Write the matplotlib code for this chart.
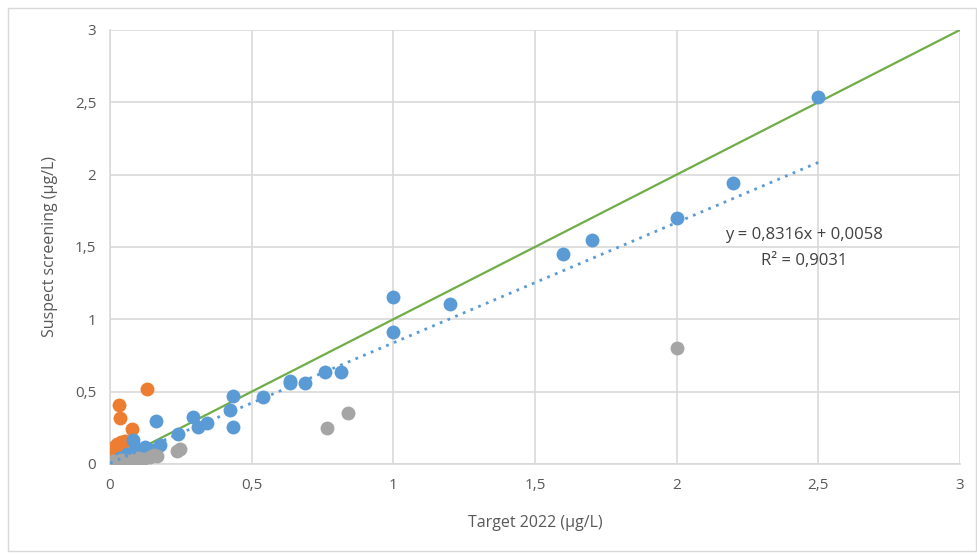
import matplotlib.pyplot as plt
from matplotlib.patches import Rectangle
from matplotlib.ticker import FuncFormatter

plt.rcParams["font.family"] = ["Open Sans", "DejaVu Sans"]

# Target 2022 vs suspect screening concentrations (µg/L)
blue_x = [2.50, 2.20, 2.00, 1.70, 1.60, 1.20, 1.00, 1.00, 0.817, 0.758, 0.689, 0.637, 0.637,
          0.54, 0.433, 0.424, 0.433, 0.341, 0.312, 0.294, 0.241, 0.162, 0.176, 0.124, 0.082,
          0.088, 0.10, 0.035, 0.02, 0.06, 0.15, 0.13]
blue_y = [2.54, 1.94, 1.70, 1.55, 1.45, 1.107, 1.156, 0.911, 0.637, 0.637, 0.558, 0.558, 0.575,
          0.465, 0.47, 0.373, 0.254, 0.281, 0.254, 0.327, 0.21, 0.30, 0.13, 0.12, 0.166,
          0.11, 0.09, 0.04, 0.02, 0.07, 0.10, 0.08]

orange_x = [0.132, 0.033, 0.035, 0.077, 0.053, 0.024, 0.012, 0.006, 0.035, 0.040, 0.015, 0.028]
orange_y = [0.518, 0.41, 0.32, 0.24, 0.16, 0.14, 0.097, 0.05, 0.097, 0.15, 0.12, 0.07]

grey_x = [2.00, 0.84, 0.767, 0.247, 0.238, 0.165, 0.14, 0.118, 0.082, 0.059, 0.024, 0.006,
          0.10, 0.155, 0.04, 0.012]
grey_y = [0.80, 0.353, 0.247, 0.104, 0.093, 0.055, 0.047, 0.032, 0.027, 0.02, 0.012, 0.006,
          0.04, 0.065, 0.03, 0.02]

slope, intercept, r2 = 0.8316, 0.0058, 0.9031
trend_x = [0, 2.5]
ideal_x = [0, 3]

fig = plt.figure(figsize=(9.78, 5.55), dpi=100)
ax = fig.add_axes([0.1125, 0.164, 0.869, 0.782])

ax.plot(ideal_x, ideal_x, color="#70AD47", lw=1.6, zorder=2)
ax.plot(trend_x, [slope * x + intercept for x in trend_x], color="#5B9BD5",
        lw=2, linestyle=(0, (1, 2)), zorder=6)

ax.scatter(orange_x, orange_y, s=100, color="#ED7D31", zorder=3, linewidths=0)
ax.scatter(blue_x, blue_y, s=100, color="#5B9BD5", zorder=4, linewidths=0)
ax.scatter(grey_x, grey_y, s=100, color="#A5A5A5", zorder=5, linewidths=0)

ax.text(2.45, 1.58, f"y = {slope:.4f}x + {intercept:.4f}".replace(".", ","),
        ha="center", va="center", fontsize=12, color="#404040")
ax.text(2.45, 1.40, f"R² = {r2:.4f}".replace(".", ","),
        ha="center", va="center", fontsize=12, color="#404040")

ax.set_xlim(0, 3)
ax.set_ylim(0, 3)
ticks = [0, 0.5, 1, 1.5, 2, 2.5, 3]
ax.set_xticks(ticks)
ax.set_yticks(ticks)
comma = FuncFormatter(lambda v, p: f"{v:g}".replace(".", ","))
ax.xaxis.set_major_formatter(comma)
ax.yaxis.set_major_formatter(comma)
ax.tick_params(length=0, labelsize=11, labelcolor="#595959", pad=10)
ax.grid(True, color="#D9D9D9", lw=1.2)
ax.set_axisbelow(True)
for side in ["top", "right"]:
    ax.spines[side].set_visible(False)
for side in ["left", "bottom"]:
    ax.spines[side].set_color("#D9D9D9")
    ax.spines[side].set_linewidth(1.2)

ax.set_xlabel("Target 2022 (µg/L)", fontsize=11.5, color="#595959", labelpad=16)
ax.set_ylabel("Suspect screening (µg/L)", fontsize=11.5, color="#595959", labelpad=12)

fig.patches.append(Rectangle((0.008, 0.007), 0.99, 0.978, transform=fig.transFigure,
                             fill=False, edgecolor="#D9D9D9", lw=1))

fig.savefig("out.png", dpi=100)
